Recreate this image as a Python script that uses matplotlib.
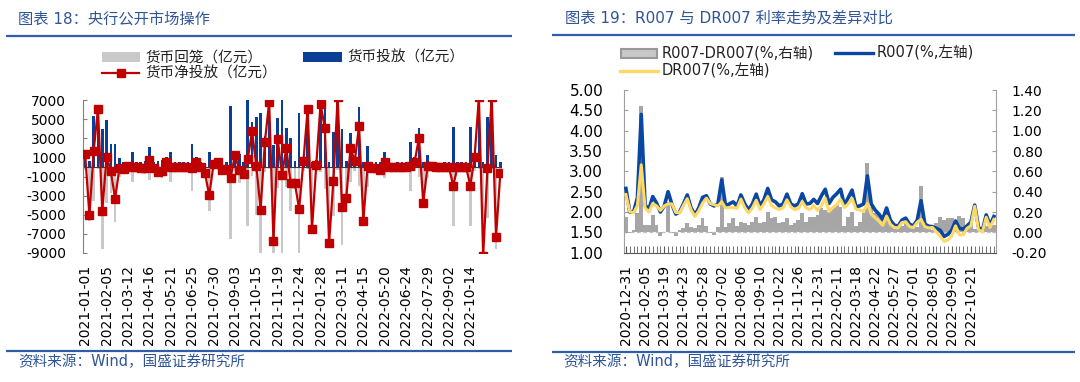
import matplotlib
matplotlib.use('Agg')
import matplotlib.pyplot as plt
from matplotlib.patches import Rectangle
from matplotlib.lines import Line2D
import numpy as np

plt.rcParams['font.family'] = ['DejaVu Sans', 'Noto Sans CJK SC']
plt.rcParams['axes.unicode_minus'] = False

# ---------------- data: left chart (weekly, 100 million yuan) ----------------
left_tick_labels = ['2021-01-01', '2021-02-05', '2021-03-12', '2021-04-16', '2021-05-21',
                    '2021-06-25', '2021-07-30', '2021-09-03', '2021-10-15', '2021-11-19',
                    '2021-12-24', '2022-01-28', '2022-03-11', '2022-04-15', '2022-05-20',
                    '2022-06-24', '2022-07-29', '2022-09-02', '2022-10-14']
inject = [1700, 600, 5300, 6300, 3950, 4900, 2350, 2450, 900, 500,
          500, 1600, 500, 500, 600, 2050, 500, 600, 730, 1000,
          1600, 500, 500, 500, 500, 2400, 1000, 500, 300, 1600,
          600, 800, 500, 500, 6400, 1700, 1400, 500, 7000, 4650,
          5170, 5690, 3200, 7000, 2290, 5070, 8300, 4090, 3000, 600,
          5590, 1000, 6300, 500, 700, 7100, 6400, 500, 3680, 7600,
          3960, 600, 3500, 1000, 6280, 500, 2220, 500, 500, 500,
          1600, 500, 400, 500, 500, 500, 2640, 1000, 4090, 500,
          1250, 500, 400, 400, 500, 500, 4200, 500, 500, 500,
          4200, 1500, 7500, 500, 5240, 7500, 1250, 490]
withdraw = [350, 5670, 3600, 200, 8600, 3820, 2770, 5780, 1040, 700,
            450, 1600, 500, 600, 700, 1350, 570, 1090, 1130, 510,
            1600, 500, 500, 500, 500, 2500, 440, 500, 960, 4580,
            320, 310, 810, 700, 7510, 450, 1710, 1260, 6200, 900,
            5070, 10170, 560, 200, 10060, 2190, 9100, 2150, 4630, 2300,
            9990, 380, 200, 7000, 490, 540, 2310, 8450, 5100, 300,
            8190, 3860, 1560, 380, 1980, 6120, 2080, 570, 570, 810,
            1110, 500, 400, 500, 500, 500, 2500, 440, 1040, 4280,
            1110, 360, 430, 430, 500, 500, 6180, 500, 500, 500,
            6180, 420, 200, 9800, 5380, 200, 8570, 1150]
net_inject = [1350, -5070, 1700, 6100, -4650, 1080, -420, -3330, -140, -200,
              50, 0, 0, -100, -100, 700, -70, -490, -400, 490,
              0, 0, 0, 0, 0, -100, 560, 0, -660, -2980,
              280, 490, -310, -200, -1110, 1250, -310, -760, 800, 3750,
              100, -4480, 2640, 6800, -7770, 2880, -800, 1940, -1630, -1700,
              -4400, 620, 6100, -6500, 210, 6560, 4090, -7950, -1420, 7300,
              -4230, -3260, 1940, 620, 4300, -5620, 140, -70, -70, -310,
              490, 0, 0, 0, 0, 0, 140, 560, 3050, -3780,
              140, 140, -30, -30, 0, 0, -1980, 0, 0, 0,
              -1980, 1080, 7300, -9300, -140, 7300, -7320, -660]

# ---------------- data: right chart (weekly, %) ----------------
right_tick_labels = ['2020-12-31', '2021-02-05', '2021-03-19', '2021-04-23', '2021-05-28',
                     '2021-07-02', '2021-08-06', '2021-09-10', '2021-10-22', '2021-11-26',
                     '2021-12-31', '2022-02-11', '2022-03-18', '2022-04-22', '2022-05-27',
                     '2022-07-01', '2022-08-05', '2022-09-09', '2022-10-21']
r007 = [2.58, 2.00, 2.00, 2.35, 4.40, 2.17, 2.07, 2.38, 2.22, 2.00,
        2.15, 2.50, 2.19, 1.95, 2.00, 2.20, 2.42, 2.10, 1.93, 2.10,
        2.36, 2.40, 2.20, 2.15, 2.20, 2.79, 2.15, 2.20, 2.25, 2.15,
        2.42, 2.20, 2.05, 2.20, 2.44, 2.15, 2.30, 2.58, 2.30, 2.25,
        2.15, 2.20, 2.44, 2.20, 2.15, 2.20, 2.45, 2.20, 2.21, 2.31,
        2.21, 2.40, 2.56, 2.21, 2.36, 2.45, 2.56, 2.17, 2.35, 2.54,
        2.13, 2.15, 2.20, 2.89, 2.20, 2.05, 1.95, 1.82, 2.10, 1.80,
        1.68, 1.65, 1.80, 1.85, 1.70, 1.66, 1.80, 2.28, 1.70, 1.65,
        1.64, 1.60, 1.55, 1.40, 1.45, 1.55, 1.78, 1.60, 1.58, 1.66,
        1.75, 2.17, 1.62, 1.55, 1.93, 1.68, 1.89]
dr007 = [2.43, 2.01, 1.98, 2.16, 3.16, 2.10, 2.00, 2.21, 2.15, 2.04,
         2.15, 2.20, 2.20, 1.99, 1.98, 2.16, 2.33, 2.05, 1.89, 2.03,
         2.22, 2.34, 2.21, 2.18, 2.15, 2.25, 2.10, 2.11, 2.11, 2.09,
         2.32, 2.11, 1.98, 2.10, 2.29, 2.06, 2.20, 2.38, 2.16, 2.10,
         2.06, 2.10, 2.30, 2.13, 2.06, 2.08, 2.26, 2.10, 2.06, 2.16,
         2.04, 2.16, 2.34, 2.01, 2.11, 2.18, 2.31, 2.11, 2.20, 2.34,
         2.07, 2.05, 2.01, 2.21, 1.95, 1.86, 1.78, 1.67, 1.90, 1.70,
         1.62, 1.61, 1.74, 1.76, 1.64, 1.62, 1.75, 1.82, 1.64, 1.61,
         1.62, 1.51, 1.40, 1.28, 1.31, 1.41, 1.66, 1.44, 1.44, 1.60,
         1.66, 2.14, 1.56, 1.51, 1.87, 1.62, 1.82]
spread = [0.15, -0.01, 0.02, 0.19, 1.24, 0.07, 0.07, 0.17, 0.07, -0.04,
          0.00, 0.30, -0.01, -0.04, 0.02, 0.04, 0.09, 0.05, 0.04, 0.07,
          0.14, 0.06, -0.01, -0.03, 0.05, 0.54, 0.05, 0.09, 0.14, 0.06,
          0.10, 0.09, 0.07, 0.10, 0.15, 0.09, 0.10, 0.20, 0.14, 0.15,
          0.09, 0.10, 0.14, 0.07, 0.09, 0.12, 0.19, 0.10, 0.15, 0.15,
          0.17, 0.24, 0.22, 0.20, 0.25, 0.27, 0.25, 0.06, 0.15, 0.20,
          0.06, 0.10, 0.19, 0.68, 0.25, 0.19, 0.17, 0.15, 0.20, 0.10,
          0.06, 0.04, 0.06, 0.09, 0.06, 0.04, 0.05, 0.46, 0.06, 0.04,
          0.02, 0.09, 0.15, 0.12, 0.14, 0.14, 0.12, 0.16, 0.14, 0.06,
          0.09, 0.03, 0.06, 0.04, 0.06, 0.06, 0.07]

# ---------------- styling ----------------
W, H = 1080, 382
TITLE_C = '#2f5597'
RULE_C = '#2e5ea8'
BLUE = '#0b3f95'
RED = '#c00000'


def fx(x):
    return x / W


def fy(y):
    return 1 - y / H


fig = plt.figure(figsize=(W / 100, H / 100), dpi=100)


def hline(x0, x1, y, color, lw):
    fig.add_artist(Line2D([fx(x0), fx(x1)], [fy(y), fy(y)], transform=fig.transFigure,
                          color=color, lw=lw, solid_capstyle='butt'))


# titles, rules, sources
fig.text(fx(18), fy(19), '图表 18：央行公开市场操作', color=TITLE_C, fontsize=11, va='center', ha='left')
fig.text(fx(565), fy(18), '图表 19：R007 与 DR007 利率走势及差异对比', color=TITLE_C, fontsize=11,
         va='center', ha='left')
hline(6, 512, 35.7, RULE_C, 1.6)
hline(552, 1075, 35.2, RULE_C, 1.6)
hline(6, 512, 351, RULE_C, 1.6)
hline(552, 1075, 351.5, RULE_C, 1.6)
fig.text(fx(18), fy(362), '资料来源：Wind，国盛证券研究所', color=TITLE_C, fontsize=10.5, va='center', ha='left')
fig.text(fx(563), fy(362), '资料来源：Wind，国盛证券研究所', color=TITLE_C, fontsize=10.5, va='center', ha='left')

# ---------------- left chart ----------------
x1 = np.arange(len(net_inject))
n1 = len(net_inject)
slot = 4.28
ax1 = fig.add_axes([fx(83), fy(253), n1 * slot / W, 153 / H])
ax1.bar(x1, [-v for v in withdraw], width=0.6, color='#c9c9c9', zorder=1)
ax1.bar(x1, inject, width=0.6, color=BLUE, zorder=2)
ax1.axhline(0, color='#3a3a3a', lw=0.8, zorder=2.5)
ax1.plot(x1, net_inject, color=RED, lw=1.6, marker='s', ms=5.5, mec=RED, mfc=RED, zorder=3)
ax1.set_xlim(-0.5, n1 - 0.5)
ax1.set_ylim(-9000, 7000)
ax1.set_yticks(np.arange(-9000, 7001, 2000))
ax1.set_yticklabels([str(v) for v in range(-9000, 7001, 2000)])
ax1.set_xticks(np.arange(0, 5 * len(left_tick_labels), 5))
ax1.set_xticklabels(left_tick_labels, rotation=90)
for s in ['top', 'right', 'bottom']:
    ax1.spines[s].set_visible(False)
ax1.spines['left'].set_color('#808080')
ax1.tick_params(axis='y', direction='in', length=3, color='#808080', pad=12, labelsize=10)
ax1.tick_params(axis='x', length=0, pad=8.6, labelsize=10)

# legend (left)
fig.add_artist(Rectangle((fx(102), fy(62)), fx(38), 10 / H, transform=fig.transFigure,
                         facecolor='#c9c9c9', edgecolor='none'))
fig.text(fx(145), fy(57), '货币回笼（亿元）', fontsize=10.5, va='center', ha='left', color='#222222')
fig.add_artist(Rectangle((fx(303), fy(62)), fx(39), 10 / H, transform=fig.transFigure,
                         facecolor=BLUE, edgecolor='none'))
fig.text(fx(347), fy(57), '货币投放（亿元）', fontsize=10.5, va='center', ha='left', color='#222222')
fig.add_artist(Line2D([fx(102), fx(139)], [fy(73), fy(73)], transform=fig.transFigure, color=RED, lw=1.6))
fig.add_artist(Line2D([fx(120.5)], [fy(73)], transform=fig.transFigure, color=RED, marker='s', ms=5.5))
fig.text(fx(145), fy(73), '货币净投放（亿元）', fontsize=10.5, va='center', ha='left', color='#222222')

# ---------------- right chart ----------------
x2 = np.arange(len(r007))
n2 = len(r007)
slot2 = 3.833
ax2 = fig.add_axes([fx(624), fy(252.7), n2 * slot2 / W, 162.7 / H])
ax2r = ax2.twinx()
ax2r.bar(x2, spread, width=1.0, color='#a6a6a6', zorder=1)
ax2r.axhline(0, color='#bfbfbf', lw=0.9, ls=(0, (3, 2)), zorder=2)
ax2.plot(x2, r007, color='#0a47a3', lw=2.6, zorder=3)
ax2.plot(x2, dr007, color='#ffd966', lw=2.2, zorder=4)
ax2.set_zorder(ax2r.get_zorder() + 1)
ax2.patch.set_visible(False)
ax2.set_xlim(-0.5, n2 - 0.5)
ax2.set_ylim(1, 5)
ax2r.set_ylim(-0.2, 1.4)
ax2.set_yticks(np.arange(1, 5.01, 0.5))
ax2.set_yticklabels(['%.2f' % v for v in np.arange(1, 5.01, 0.5)])
ax2r.set_yticks(np.arange(-0.2, 1.41, 0.2))
ax2r.set_yticklabels(['%.2f' % (v + 0.0) for v in np.round(np.arange(-0.2, 1.41, 0.2), 2)])
ax2.set_xticks(np.arange(0, 5 * len(right_tick_labels), 5))
ax2.set_xticklabels(right_tick_labels, rotation=90)
ax2.set_xticks(x2, minor=True)
for s in ['top', 'right']:
    ax2.spines[s].set_visible(False)
for s in ['top', 'left', 'bottom']:
    ax2r.spines[s].set_visible(False)
ax2.spines['left'].set_color('#a0a0a0')
ax2.spines['bottom'].set_color('#595959')
ax2r.spines['right'].set_color('#a0a0a0')
ax2.tick_params(axis='y', direction='in', length=3, color='#a0a0a0', pad=15, labelsize=11)
ax2r.tick_params(axis='y', direction='in', length=3, color='#a0a0a0', pad=11.5, labelsize=10)
ax2.tick_params(axis='x', which='both', direction='in', length=5, color='#595959', pad=8.9, labelsize=10)

# legend (right)
fig.add_artist(Rectangle((fx(621), fy(57.5)), fx(36), 9 / H, transform=fig.transFigure,
                         facecolor='#c8c8c8', edgecolor='#999999', lw=1.5))
fig.text(fx(662), fy(53), 'R007-DR007(%,右轴)', fontsize=10.5, va='center', ha='left', color='#222222')
fig.add_artist(Line2D([fx(835), fx(873)], [fy(53), fy(53)], transform=fig.transFigure, color='#0a47a3', lw=2.4))
fig.text(fx(877), fy(53), 'R007(%,左轴)', fontsize=10.5, va='center', ha='left', color='#222222')
fig.add_artist(Line2D([fx(620), fx(658)], [fy(71), fy(71)], transform=fig.transFigure, color='#ffd966', lw=2.4))
fig.text(fx(662), fy(71), 'DR007(%,左轴)', fontsize=10.5, va='center', ha='left', color='#222222')

fig.savefig('out.png', dpi=100)
